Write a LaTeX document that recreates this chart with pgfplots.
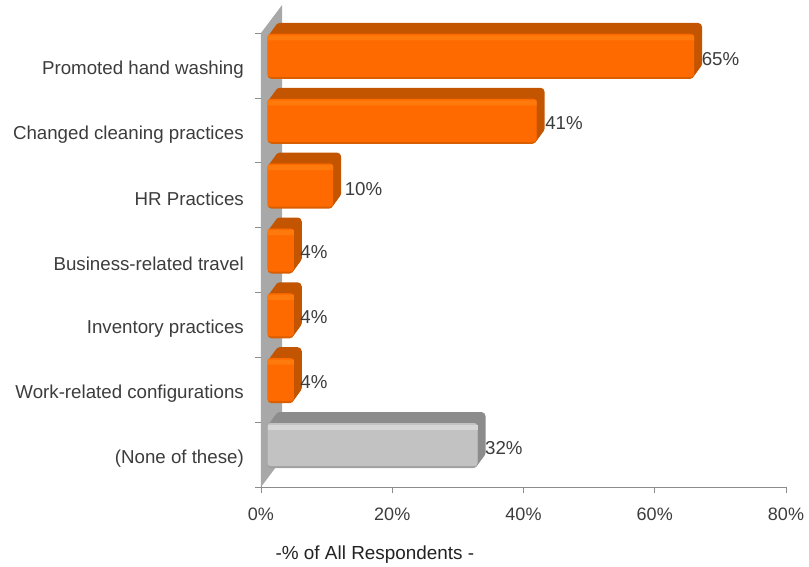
\documentclass[border=0pt]{standalone}
\usepackage{pgfplots}
\usepackage{pgfplotstable}
\usepackage{fontspec}
\setmainfont{Liberation Sans}
\pgfplotsset{compat=1.18}

\definecolor{wall}{HTML}{A8A8A8}
\definecolor{axisgray}{HTML}{8C8C8C}
\definecolor{txt}{HTML}{3C3C3C}
\definecolor{txtdark}{HTML}{222222}
\definecolor{orfront}{HTML}{FF6A00}
\definecolor{orlight}{HTML}{FF7A0C}
\definecolor{ordark}{HTML}{C45500}
\definecolor{oredge}{HTML}{D95E00}
\definecolor{grfront}{HTML}{C2C2C2}
\definecolor{grlight}{HTML}{D6D6D6}
\definecolor{grdark}{HTML}{8C8C8C}
\definecolor{gredge}{HTML}{A0A0A0}

% pos = category row, value = percent
\pgfplotstableread{
pos value
0 65
1 41
2 10
3 4
4 4
5 4
}\orangebars
\pgfplotstableread{
pos value
6 32
}\graybars
% dx,dy nudge the labels to where they sit in the chart
\pgfplotstableread{
pos value dx dy
0 65 14 6
1 41 15 7
2 10 18 6
3 4 13 8
4 4 13 8
5 4 13 8
6 32 14 7
}\labels

\begin{document}
\begin{tikzpicture}[x=1pt,y=1pt]
\path[use as bounding box] (0,0) rectangle (809,-567);
\begin{axis}[
    scale only axis,
    width=525pt, height=454pt,
    at={(261pt,-487pt)}, anchor=south west,
    clip=false,
    xmin=0, xmax=80,
    ymin=-0.5, ymax=6.5,
    y dir=reverse,
    axis lines=left,
    axis line style={-, draw=axisgray, line width=0.7pt},
    tick style={draw=axisgray, line width=0.7pt},
    tick align=outside,
    tick pos=left,
    xtick={0,20,40,60,80},
    xticklabels={0\%,20\%,40\%,60\%,80\%},
    ytick={0,1,2,3,4,5,6},
    yticklabels={Promoted hand washing,Changed cleaning practices,HR Practices,Business-related travel,Inventory practices,Work-related configurations,(None of these)},
    major tick length=6pt,
    y tick label style={font=\fontsize{18.7}{20}\selectfont, text=txt, yshift=-4pt, xshift=-11pt, inner sep=0pt},
    x tick label style={font=\fontsize{18}{20}\selectfont, text=txt, yshift=-15pt, inner sep=0pt},
    y tick style={draw=none},
    xlabel={-\% of All Respondents -},
    xlabel style={at={(axis description cs:0.217,-0.149)}, anchor=center, inner sep=0pt,
        font=\fontsize{18.9}{20}\selectfont, text=txtdark},
]
% side wall
\addplot[draw=none, fill=wall, forget plot] coordinates {(0,-0.5) (3.2,-0.93) (3.2,6.07) (0,6.5)} --cycle;
% ticks between the categories
\pgfplotsinvokeforeach{-0.5,0.5,1.5,2.5,3.5,4.5,5.5,6.5}{
  \addplot[draw=axisgray, line width=0.7pt, forget plot] coordinates {(-0.91,#1) (0,#1)};
}
% extruded depth of the bars
\pgfplotsinvokeforeach{8,7,6,5,4,3,2,1}{
  \addplot[xbar, bar width=45pt, bar shift=0pt, draw=none, fill=ordark, rounded corners=4pt,
      xshift={6.5pt+#1pt}, yshift={9pt+1.375pt*#1}, forget plot]
      table[x=value,y=pos] {\orangebars};
  \addplot[xbar, bar width=45pt, bar shift=0pt, draw=none, fill=grdark, rounded corners=4pt,
      xshift={6.5pt+#1pt}, yshift={9pt+1.375pt*#1}, forget plot]
      table[x=value,y=pos] {\graybars};
}
% front faces
\addplot[xbar, bar width=45pt, bar shift=0pt, draw=none, fill=oredge, rounded corners=4pt,
    xshift=6.5pt, yshift=9pt, forget plot] table[x=value,y=pos] {\orangebars};
\addplot[xbar, bar width=43pt, bar shift=0pt, draw=none, fill=orfront, rounded corners=3pt,
    xshift=6.5pt, yshift=10pt, forget plot] table[x=value,y=pos] {\orangebars};
\addplot[xbar, bar width=5pt, bar shift=0pt, draw=none, fill=orlight,
    xshift=6.5pt, yshift=27.5pt, forget plot] table[x=value,y=pos] {\orangebars};
\addplot[xbar, bar width=45pt, bar shift=0pt, draw=none, fill=gredge, rounded corners=4pt,
    xshift=6.5pt, yshift=9pt, forget plot] table[x=value,y=pos] {\graybars};
\addplot[xbar, bar width=43pt, bar shift=0pt, draw=none, fill=grfront, rounded corners=3pt,
    xshift=6.5pt, yshift=10pt, forget plot] table[x=value,y=pos] {\graybars};
\addplot[xbar, bar width=5pt, bar shift=0pt, draw=none, fill=grlight,
    xshift=6.5pt, yshift=27.5pt, forget plot] table[x=value,y=pos] {\graybars};
% value labels
\addplot[draw=none, mark=none, forget plot,
    visualization depends on={\thisrow{dx} \as \labdx},
    visualization depends on={\thisrow{dy} \as \labdy},
    point meta=x,
    nodes near coords={\pgfmathprintnumber[assume math mode=true]{\pgfplotspointmeta}\%},
    every node near coord/.append style={anchor=west, inner sep=0pt, text=txt,
        font=\fontsize{18.7}{20}\selectfont,
        xshift=\labdx pt, yshift=\labdy pt},
] table[x=value,y=pos] {\labels};
\end{axis}
\end{tikzpicture}
\end{document}
